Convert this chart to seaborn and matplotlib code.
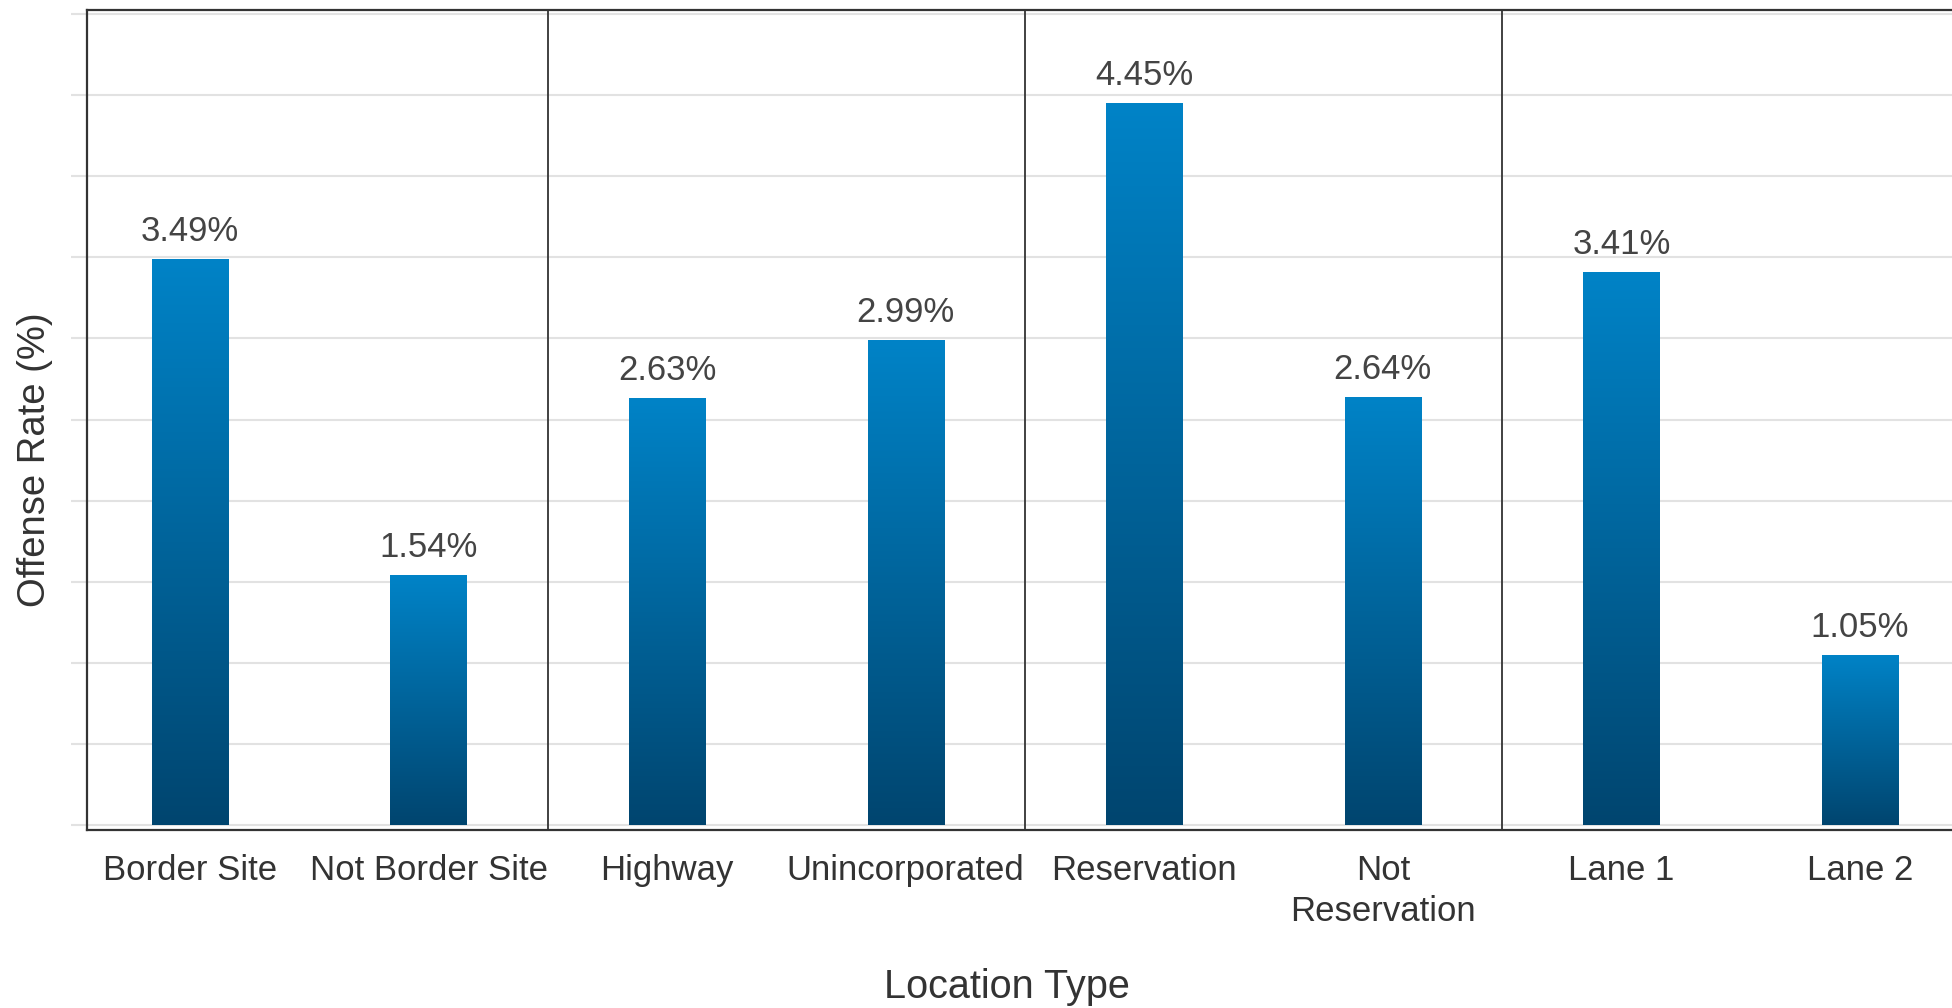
import numpy as np
import pandas as pd
import matplotlib
matplotlib.use("Agg")
import matplotlib.pyplot as plt
import seaborn as sns
from matplotlib.colors import LinearSegmentedColormap

# Offense rate by location type, arranged in pairs of related locations
categories = ["Border Site", "Not Border Site", "Highway", "Unincorporated",
              "Reservation", "Not Reservation", "Lane 1", "Lane 2"]
tick_labels = ["Border Site", "Not Border Site", "Highway", "Unincorporated",
               "Reservation", "Not\nReservation", "Lane 1", "Lane 2"]
offense_rate = [3.49, 1.54, 2.63, 2.99, 4.45, 2.64, 3.41, 1.05]
groups = ["Border", "Border", "Road", "Road",
          "Reservation", "Reservation", "Lane", "Lane"]

df = pd.DataFrame({"location": categories, "rate": offense_rate, "group": groups})

sns.set_style("white")
plt.rcParams["font.family"] = ["Liberation Sans", "DejaVu Sans"]

W, H, DPI = 1952, 1008, 100
fig = plt.figure(figsize=(W / DPI, H / DPI), dpi=DPI)
ax = fig.add_axes([87 / W, (H - 830) / H, (W - 87) / W, 820 / H])

sns.barplot(data=df, x="location", y="rate", order=categories, width=0.32,
            color="#0070b0", errorbar=None, ax=ax, zorder=3)

# vertical blue gradient inside each bar: dark at the base, bright at the top
cmap = LinearSegmentedColormap.from_list("bar_grad", ["#00456F", "#0083C7"])
grad = np.linspace(0, 1, 256).reshape(-1, 1)
bars = list(ax.patches)
for patch in bars:
    x0, y0 = patch.get_x(), patch.get_y()
    w, h = patch.get_width(), patch.get_height()
    im = ax.imshow(grad, cmap=cmap, origin="lower", aspect="auto",
                   extent=(x0, x0 + w, y0, y0 + h), zorder=3,
                   interpolation="bilinear")
    im.set_clip_path(patch)
    patch.set_facecolor("none")
    patch.set_edgecolor("none")

# value labels above bars
for patch, val in zip(bars, offense_rate):
    ax.annotate(f"{val:.2f}%",
                xy=(patch.get_x() + patch.get_width() / 2, patch.get_height()),
                xytext=(0, 13), textcoords="offset points",
                ha="center", va="baseline", fontsize=25, color="#444444")

ax.set_xlim(-0.432, 7.386)
ax.set_ylim(-0.031, 5.025)

# horizontal grid, with its lines continued as ticks past the left spine
ax.set_yticks(np.arange(0, 5.01, 0.5))
ax.yaxis.grid(True, color="#e2e2e2", linewidth=1.5)
ax.xaxis.grid(False)
ax.set_axisbelow(True)
ax.tick_params(axis="y", left=True, length=11.5, width=1.5, color="#e2e2e2",
               labelleft=False)

for s in ["top", "left", "bottom"]:
    ax.spines[s].set_color("#333333")
    ax.spines[s].set_linewidth(1.6)
ax.spines["right"].set_visible(False)

# separators between location groups
for i in range(1, len(groups)):
    if groups[i] != groups[i - 1]:
        ax.axvline(i - 0.5, color="#333333", linewidth=1.3, zorder=4)

ax.set_xticks(range(len(categories)))
ax.set_xticklabels(tick_labels, fontsize=25, color="#333333", linespacing=1.3)
ax.tick_params(axis="x", bottom=False, length=0, pad=17.5)

ax.set_xlabel("Location Type", fontsize=28.5, color="#333333")
ax.xaxis.label.set_va("baseline")
ax.xaxis.set_label_coords((1007 - 87) / (W - 87), -(998 - 830) / 820)

ax.set_ylabel("Offense Rate (%)", fontsize=27.5, color="#333333")
ax.yaxis.label.set_va("center")
ax.yaxis.set_label_coords((35 - 87) / (W - 87), (830 - 460) / 820)

fig.savefig("out.png", dpi=DPI)
